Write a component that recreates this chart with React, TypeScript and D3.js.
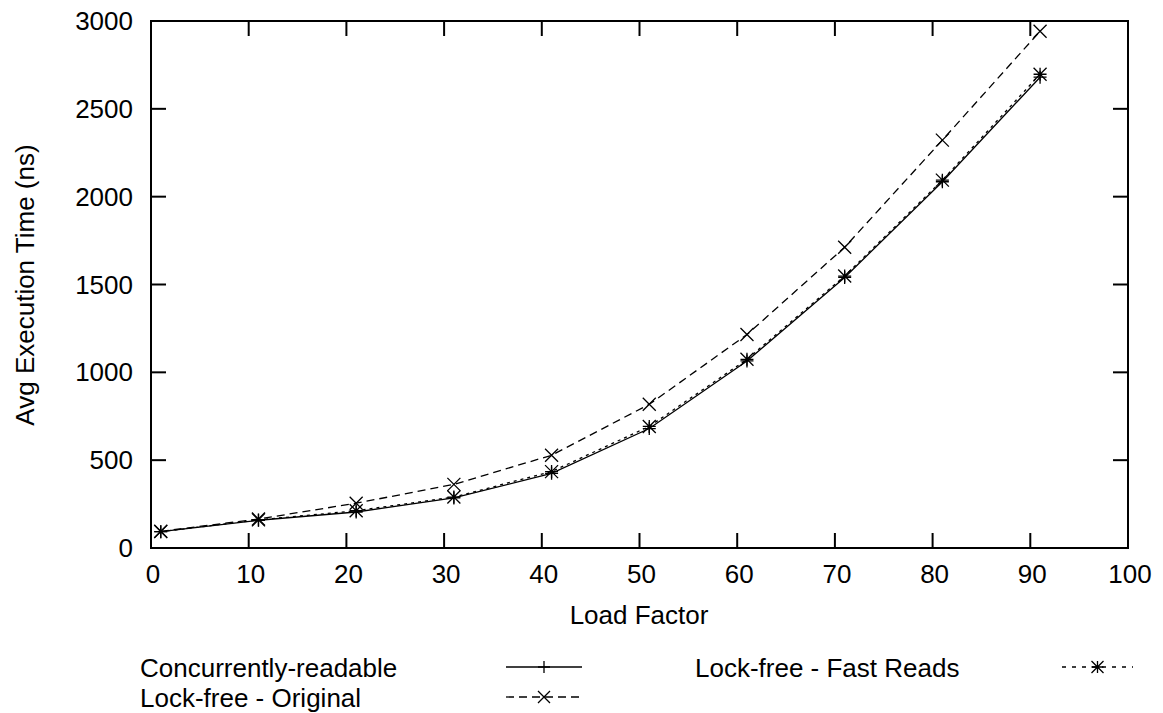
import React from "react";
import * as d3 from "d3";

const loadFactors = [1, 11, 21, 31, 41, 51, 61, 71, 81, 91];
const concurrentlyReadable = [93, 158, 205, 285, 425, 680, 1065, 1540, 2085, 2680];
const lockFreeOriginal = [95, 165, 255, 362, 528, 818, 1215, 1712, 2322, 2942];
const lockFreeFastReads = [93, 160, 212, 290, 435, 692, 1074, 1548, 2094, 2697];
const xTicks = [0, 10, 20, 30, 40, 50, 60, 70, 80, 90, 100];
const yTicks = [0, 500, 1000, 1500, 2000, 2500, 3000];

const W = 1163;
const H = 713;
const left = 151;
const right = 1128;
const top = 21;
const bottom = 548;
const FONT = "'Liberation Sans', Arial, sans-serif";
const FS = 26;

type Marker = "plus" | "cross" | "star";

function markerPath(m: Marker, x: number, y: number, s: number) {
  const plus = `M${x - s},${y}H${x + s}M${x},${y - s}V${y + s}`;
  const cross = `M${x - s},${y - s}L${x + s},${y + s}M${x - s},${y + s}L${x + s},${y - s}`;
  if (m === "plus") return plus;
  if (m === "cross") return cross;
  return plus + cross;
}

const series = [
  { name: "Concurrently-readable", values: concurrentlyReadable, dash: "none", marker: "plus" as Marker, legendDash: "none" },
  { name: "Lock-free - Original", values: lockFreeOriginal, dash: "8,5", marker: "cross" as Marker, legendDash: "8,5" },
  { name: "Lock-free - Fast Reads", values: lockFreeFastReads, dash: "3,4", marker: "star" as Marker, legendDash: "4,6" },
];

export default function App() {
  const x = d3.scaleLinear().domain([0, 100]).range([left, right]);
  const y = d3.scaleLinear().domain([0, 3000]).range([bottom, top]);
  const line = d3
    .line<[number, number]>()
    .x((d) => x(d[0]))
    .y((d) => y(d[1]));

  const legendPos = [
    { tx: 140, ty: 667, lx1: 506, lx2: 582 },
    { tx: 140, ty: 697, lx1: 506, lx2: 582 },
    { tx: 695, ty: 667, lx1: 1062, lx2: 1133 },
  ];

  return (
    <svg width={W} height={H} style={{ position: "absolute", left: 0, top: 0, background: "#fff" }} fontFamily={FONT}>
      <rect x={0} y={0} width={W} height={H} fill="#fff" />
      {/* ticks */}
      {xTicks.map((t) => (
        <g key={"xt" + t}>
          {t > 0 && t < 100 && (
            <>
              <line x1={x(t)} x2={x(t)} y1={bottom} y2={bottom - 15} stroke="#000" strokeWidth={2} />
              <line x1={x(t)} x2={x(t)} y1={top} y2={top + 15} stroke="#000" strokeWidth={2} />
            </>
          )}
          <text x={x(t) + 2} y={bottom + 35} textAnchor="middle" fontSize={FS}>
            {t}
          </text>
        </g>
      ))}
      {yTicks.map((t) => (
        <g key={"yt" + t}>
          {t > 0 && t < 3000 && (
            <>
              <line x1={left} x2={left + 15} y1={y(t)} y2={y(t)} stroke="#000" strokeWidth={2} />
              <line x1={right} x2={right - 15} y1={y(t)} y2={y(t)} stroke="#000" strokeWidth={2} />
            </>
          )}
          <text x={left - 18} y={y(t) + 9} textAnchor="end" fontSize={FS}>
            {t}
          </text>
        </g>
      ))}
      <rect x={left} y={top} width={right - left} height={bottom - top} fill="none" stroke="#000" strokeWidth={2} />

      {/* series */}
      {series.map((s) => {
        const pts: [number, number][] = loadFactors.map((lf, i) => [lf, s.values[i]]);
        return (
          <g key={s.name}>
            <path d={line(pts) || ""} fill="none" stroke="#000" strokeWidth={1.3} strokeDasharray={s.dash} />
            {pts.map((p, i) => (
              <path key={i} d={markerPath(s.marker, x(p[0]), y(p[1]), 6.5)} stroke="#000" strokeWidth={1.3} fill="none" />
            ))}
          </g>
        );
      })}

      {/* axis titles */}
      <text x={639} y={624} textAnchor="middle" fontSize={FS}>
        Load Factor
      </text>
      <text transform={`translate(34,${285}) rotate(-90)`} textAnchor="middle" fontSize={FS}>
        Avg Execution Time (ns)
      </text>

      {/* legend */}
      {series.map((s, i) => {
        const p = legendPos[i];
        const cx = (p.lx1 + p.lx2) / 2;
        return (
          <g key={"lg" + s.name}>
            <text x={p.tx} y={p.ty + 9.5} fontSize={FS}>
              {s.name}
            </text>
            <line x1={p.lx1} x2={p.lx2} y1={p.ty} y2={p.ty} stroke="#000" strokeWidth={1.3} strokeDasharray={s.legendDash} />
            <path d={markerPath(s.marker, cx, p.ty, 6)} stroke="#000" strokeWidth={1.3} fill="none" />
          </g>
        );
      })}
    </svg>
  );
}
